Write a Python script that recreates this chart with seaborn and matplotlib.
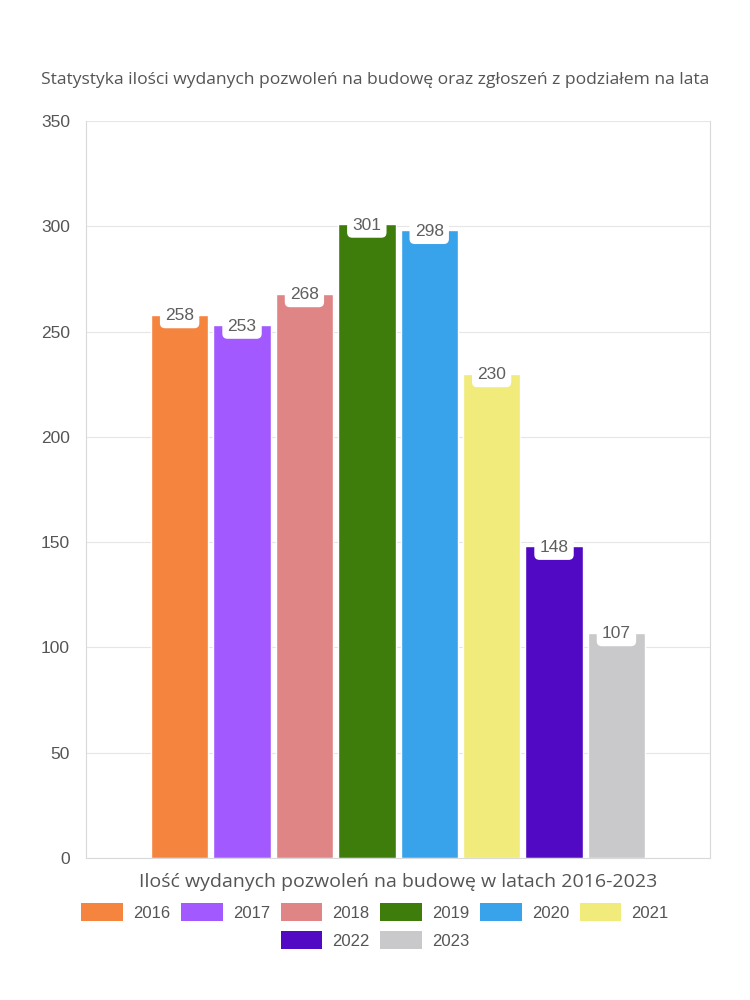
import matplotlib
matplotlib.use("Agg")
import matplotlib.pyplot as plt
from matplotlib.patches import Patch
import pandas as pd
import seaborn as sns

# --- data ---
years = ["2016", "2017", "2018", "2019", "2020", "2021", "2022", "2023"]
permits = [258, 253, 268, 301, 298, 230, 148, 107]
colors = ["#F5843F", "#A259FF", "#E08585", "#3E7D0B",
          "#38A3EB", "#F0EB7A", "#5209C4", "#C9C9CC"]
y_ticks = [0, 50, 100, 150, 200, 250, 300, 350]

TITLE = "Statystyka ilości wydanych pozwoleń na budowę oraz zgłoszeń z podziałem na lata"
XLABEL = "Ilość wydanych pozwoleń na budowę w latach 2016-2023"
TEXT_GREY = "#555555"


def main():
    df = pd.DataFrame({"grupa": [""] * len(years), "rok": years, "ilosc": permits})

    sns.set_style("white")
    plt.rcParams["font.family"] = ["Liberation Sans", "DejaVu Sans"]

    fig = plt.figure(figsize=(7.5, 10), dpi=100)
    ax = fig.add_axes([0.1147, 0.142, 0.832, 0.737])

    sns.barplot(data=df, x="grupa", y="ilosc", hue="rok", hue_order=years,
                palette=colors, width=0.8, gap=0.08, saturation=1,
                legend=False, ax=ax)

    # --- value labels in white boxes at the bar tops ---
    for cont in ax.containers:
        ax.bar_label(cont, padding=-6, color="#5F5F5F", fontsize=12.5,
                     bbox=dict(boxstyle="round,pad=0.3", fc="white", ec="none"))

    # --- axes styling ---
    ax.set_ylim(0, 350)
    ax.set_yticks(y_ticks)
    ax.set_xlim(-0.5, 0.5)
    ax.set_xticks([-0.5, 0.5])
    ax.set_xticklabels(["", ""])
    ax.grid(axis="y", color="#E6E6E6", linewidth=0.8)
    ax.set_axisbelow(True)
    for side in ["left", "bottom", "right", "top"]:
        ax.spines[side].set_color("#D9D9D9")
    ax.spines["top"].set_visible(False)
    ax.tick_params(axis="y", colors="#D0D0D0", labelcolor=TEXT_GREY,
                   labelsize=12.5, length=8, width=0.8)
    ax.tick_params(axis="x", colors="#D0D0D0", length=8, width=0.8)
    ax.set_ylabel("")
    ax.set_xlabel(XLABEL, color=TEXT_GREY, fontsize=14,
                  family=["Open Sans", "DejaVu Sans"], labelpad=-1)

    fig.text(0.5, 0.92, TITLE, ha="center", va="center", color=TEXT_GREY,
             fontsize=12.6, family=["Open Sans", "DejaVu Sans"])

    # --- legend: 6 items in first row, 2 centred in second ---
    handles = [Patch(facecolor=c, edgecolor="none") for c in colors]
    common = dict(frameon=False, fontsize=12, handlelength=2.5, handleheight=1.35,
                  handletextpad=0.6, columnspacing=0.65, labelcolor=TEXT_GREY)
    fig.legend(handles[:6], years[:6], ncol=6, loc="center",
               bbox_to_anchor=(0.5, 0.088), **common)
    fig.legend(handles[6:], years[6:], ncol=2, loc="center",
               bbox_to_anchor=(0.5, 0.06), **common)

    fig.savefig("out.png", dpi=100)
    plt.close(fig)


if __name__ == "__main__":
    main()
